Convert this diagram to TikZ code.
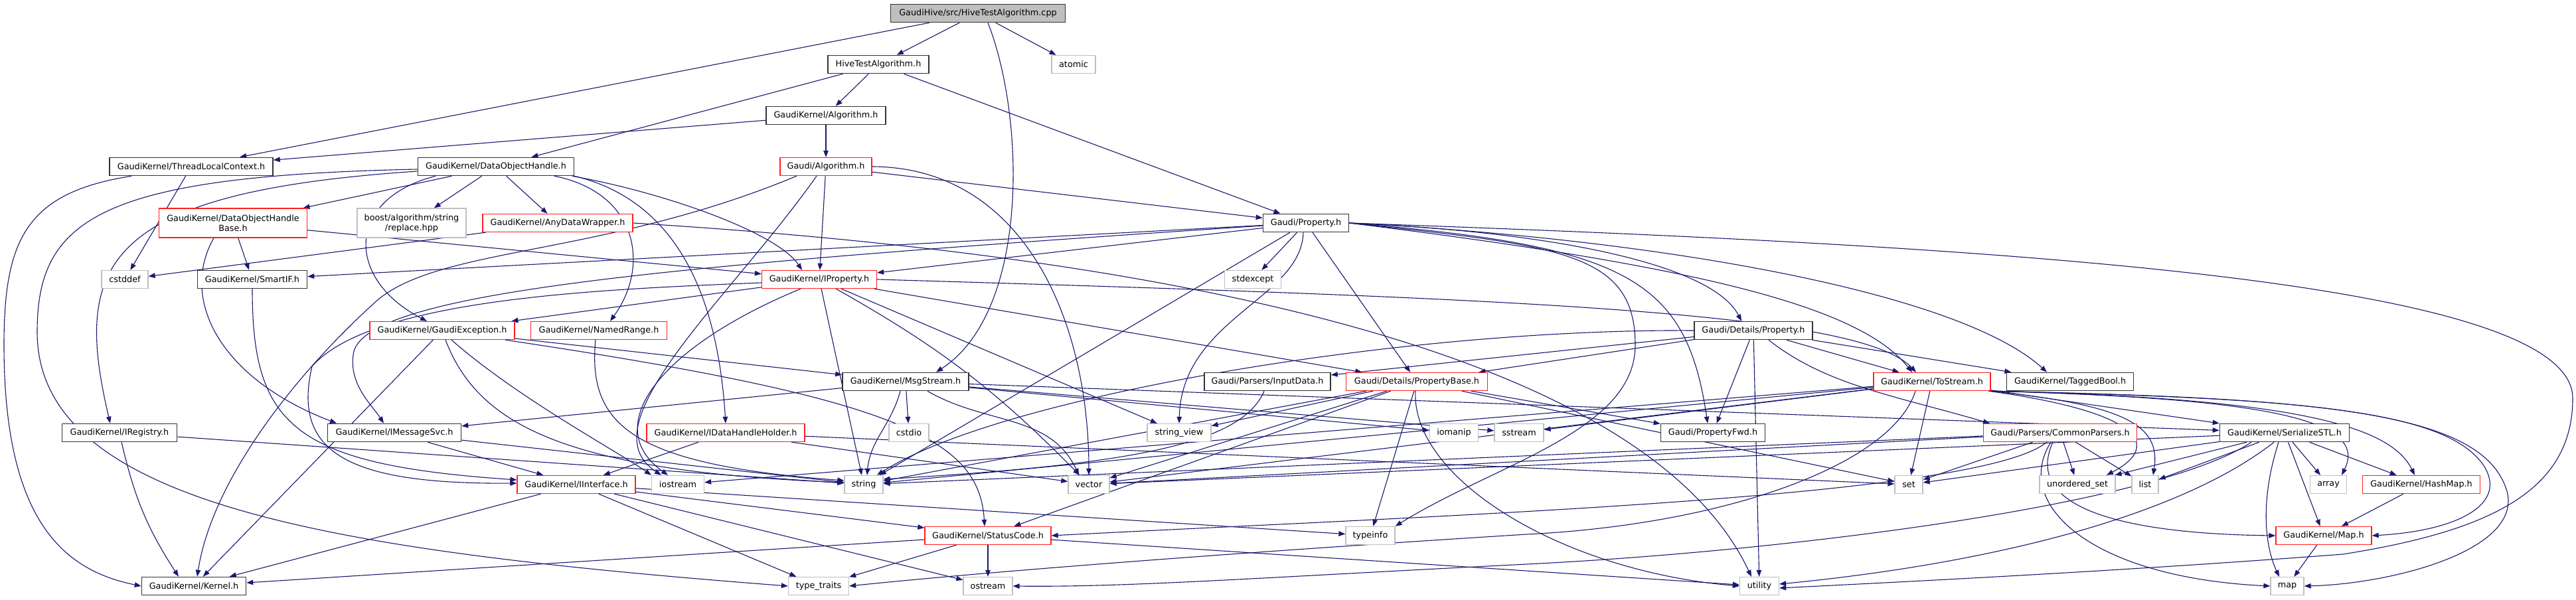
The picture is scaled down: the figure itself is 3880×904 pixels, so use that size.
\documentclass[tikz,border=0pt]{standalone}
\usepackage{fontspec}
\setmainfont{DejaVu Sans}
\usetikzlibrary{arrows.meta}
\pgfdeclarelayer{bg}
\pgfsetlayers{bg,main}
\definecolor{edgec}{HTML}{191970}
\definecolor{nodeb}{HTML}{333333}
\definecolor{sysg}{HTML}{BFBFBF}
\definecolor{redb}{HTML}{FF2020}
\begin{document}
\begin{tikzpicture}[x=1pt,y=1pt,
  nb/.style={draw=nodeb,line width=1.6pt,fill=white,minimum height=27pt,inner xsep=3pt,inner ysep=2pt,font=\fontsize{12.8}{15}\selectfont,align=center},
  nr/.style={nb,draw=redb,line width=1.3pt},
  ng/.style={nb,draw=sysg,line width=1.3pt},
  e/.style={draw=edgec,line width=1.1pt,-{Triangle[length=10pt,width=7.5pt]}}]
\useasboundingbox (0,0) rectangle (3880,-904);
% nodes
\node[nb,fill=sysg,minimum width=263pt] (root) at (1473,-20) {GaudiHive/src/HiveTestAlgorithm.cpp};
\node[nb,minimum width=152pt] (hta) at (1323,-97) {HiveTestAlgorithm.h};
\node[ng,minimum width=66pt] (atomic) at (1617,-97) {atomic};
\node[nb,minimum width=180pt] (gkalg) at (1244,-174) {GaudiKernel/Algorithm.h};
\node[nr,minimum width=138pt] (galg) at (1244,-251) {Gaudi/Algorithm.h};
\node[nb,minimum width=246pt] (tlc) at (288,-251) {GaudiKernel/ThreadLocalContext.h};
\node[nb,minimum width=235pt] (doh) at (747,-251) {GaudiKernel/DataObjectHandle.h};
\node[nr,minimum width=223pt,minimum height=44pt] (dohb) at (351,-336) {GaudiKernel/DataObjectHandle\\Base.h};
\node[ng,minimum width=164pt,minimum height=44pt] (boost) at (620,-336) {boost/algorithm/string\\/replace.hpp};
\node[nr,minimum width=226pt] (adw) at (840,-336) {GaudiKernel/AnyDataWrapper.h};
\node[nb,minimum width=129pt] (prop) at (1967,-336) {Gaudi/Property.h};
\node[ng,minimum width=70pt] (cstddef) at (188,-421) {cstddef};
\node[nb,minimum width=165pt] (smartif) at (380,-421) {GaudiKernel/SmartIF.h};
\node[nr,minimum width=173pt] (iprop) at (1234,-421) {GaudiKernel/IProperty.h};
\node[ng,minimum width=85pt] (stdexcept) at (1887,-421) {stdexcept};
\node[nr,minimum width=218pt] (gexc) at (666,-498) {GaudiKernel/GaudiException.h};
\node[nr,minimum width=205pt] (named) at (902,-498) {GaudiKernel/NamedRange.h};
\node[nb,minimum width=178pt] (dprop) at (2641,-498) {Gaudi/Details/Property.h};
\node[nb,minimum width=190pt] (msg) at (1364,-575) {GaudiKernel/MsgStream.h};
\node[nb,minimum width=190pt] (inputdata) at (1909,-575) {Gaudi/Parsers/InputData.h};
\node[nr,minimum width=213pt] (pbase) at (2134,-575) {Gaudi/Details/PropertyBase.h};
\node[nr,minimum width=176pt] (tostream) at (2910,-575) {GaudiKernel/ToStream.h};
\node[nb,minimum width=191pt] (tagged) at (3118,-575) {GaudiKernel/TaggedBool.h};
\node[nb,minimum width=173pt] (iregistry) at (180,-652) {GaudiKernel/IRegistry.h};
\node[nb,minimum width=201pt] (imsg) at (594,-652) {GaudiKernel/IMessageSvc.h};
\node[nr,minimum width=238pt] (idhh) at (1093,-652) {GaudiKernel/IDataHandleHolder.h};
\node[ng,minimum width=60pt] (cstdio) at (1369,-652) {cstdio};
\node[ng,minimum width=96pt] (sview) at (1776,-652) {string\_view};
\node[ng,minimum width=73pt] (iomanip) at (2190,-652) {iomanip};
\node[ng,minimum width=74pt] (sstream) at (2288,-652) {sstream};
\node[nb,minimum width=157pt] (pfwd) at (2580,-652) {Gaudi/PropertyFwd.h};
\node[nr,minimum width=231pt] (cparsers) at (3103,-652) {Gaudi/Parsers/CommonParsers.h};
\node[nb,minimum width=195pt] (sstl) at (3441,-652) {GaudiKernel/SerializeSTL.h};
\node[nr,minimum width=178pt] (iinterface) at (868,-730) {GaudiKernel/IInterface.h};
\node[ng,minimum width=79pt] (iostream) at (1021,-730) {iostream};
\node[ng,minimum width=58pt] (string) at (1301,-730) {string};
\node[ng,minimum width=62pt] (vector) at (1640,-730) {vector};
\node[ng,minimum width=42pt] (set) at (2875,-730) {set};
\node[ng,minimum width=114pt] (uset) at (3129,-730) {unordered\_set};
\node[ng,minimum width=40pt] (list) at (3231,-730) {list};
\node[ng,minimum width=55pt] (array) at (3507,-730) {array};
\node[nr,minimum width=177pt] (hashmap) at (3647,-730) {GaudiKernel/HashMap.h};
\node[nr,minimum width=190pt] (statuscode) at (1488,-807) {GaudiKernel/StatusCode.h};
\node[ng,minimum width=74pt] (typeinfo) at (2064,-807) {typeinfo};
\node[nr,minimum width=144pt] (mapH) at (3500,-807) {GaudiKernel/Map.h};
\node[nb,minimum width=157pt] (kernel) at (292,-883) {GaudiKernel/Kernel.h};
\node[ng,minimum width=91pt] (typetraits) at (1233,-883) {type\_traits};
\node[ng,minimum width=74pt] (ostream) at (1488,-883) {ostream};
\node[ng,minimum width=59pt] (utility) at (2650,-883) {utility};
\node[ng,minimum width=50pt] (map) at (3445,-883) {map};
% edges
\begin{pgfonlayer}{bg}
\fill[white] (0,0) rectangle (3880,-904);
% root
\draw[e] (root) -- (tlc);
\draw[e] (root) -- (hta);
\draw[e] ([xshift=15pt]root.south) .. controls (1545,-180) and (1550,-470) .. ([xshift=46pt]msg.north);
\draw[e] (root) -- (atomic);
% hta
\draw[e] (hta) -- (doh);
\draw[e] (hta) -- (gkalg);
\draw[e] (hta) -- (prop);
% gkalg
\draw[e] (gkalg) -- (galg);
\draw[e] (gkalg) -- (tlc);
% galg
\draw[e] (galg) -- (iprop);
\draw[e] (galg) -- (prop);
\draw[e] (galg.east) .. controls (1540,-252) and (1640,-480) .. (vector.north);
\draw[e] ([xshift=-44pt]galg.south) .. controls (900,-390) and (650,-370) .. (560,-460) .. controls (450,-560) and (320,-720) .. ([xshift=5pt]kernel.north);
\draw[e] ([xshift=-14pt]galg.south) .. controls (1100,-450) and (880,-640) .. ([xshift=-25pt]iostream.north);
% tlc
\draw[e] (tlc) -- (cstddef);
\draw[e] ([xshift=-90pt]tlc.south) .. controls (40,-290) and (6,-360) .. (6,-520) .. controls (6,-790) and (100,-860) .. (kernel.west);
% doh
\draw[e] (doh) -- (dohb);
\draw[e] (doh) -- (boost);
\draw[e] (doh) -- (adw);
\draw[e] ([yshift=-7pt]doh.west) .. controls (150,-290) and (110,-400) .. ([xshift=-14pt]iregistry.north);
\draw[e] ([yshift=-4pt]doh.west) .. controls (150,-265) and (56,-330) .. (56,-500) .. controls (56,-760) and (500,-830) .. (typetraits.west);
\draw[e] ([xshift=-91pt]doh.south) .. controls (520,-300) and (520,-420) .. ([xshift=-23pt]gexc.north);
\draw[e] ([xshift=88pt]doh.south) .. controls (960,-290) and (980,-400) .. ([xshift=17pt]named.north);
\draw[e] ([xshift=115pt]doh.south) .. controls (1000,-290) and (1170,-350) .. ([xshift=-26pt]iprop.north);
\draw[e] (doh.south east) .. controls (1010,-300) and (1080,-430) .. (idhh.north);
% dohb
\draw[e] (dohb) -- (smartif);
\draw[e] ([xshift=-29pt]dohb.south) .. controls (270,-450) and (330,-570) .. ([xshift=-87pt]imsg.north);
\draw[e] (dohb) -- (iprop);
% adw
\draw[e] (adw) -- (cstddef);
\draw[e] (adw.east) .. controls (1500,-370) and (2450,-470) .. ([xshift=-12pt]utility.north);
% smartif
\draw[e] (smartif.south) .. controls (380,-640) and (440,-700) .. ([yshift=7pt]iinterface.west);
% prop
\draw[e] (prop) -- (smartif);
\draw[e] ([yshift=-4pt]prop.west) .. controls (1000,-400) and (540,-440) .. (532,-535) .. controls (526,-580) and (560,-610) .. ([xshift=-16pt]imsg.north);
\draw[e] (prop) -- (iprop);
\draw[e] (prop) -- (stdexcept);
\draw[e] (prop) -- (string);
\draw[e] ([xshift=-4pt]prop.south) .. controls (1960,-450) and (1780,-480) .. (sview.north);
\draw[e] (prop) -- (pbase);
\draw[e] (prop.east) .. controls (2350,-350) and (2580,-400) .. ([xshift=-18pt]dprop.north);
\draw[e] (prop.east) .. controls (2350,-370) and (2463,-380) .. (2463,-520) .. controls (2463,-650) and (2250,-700) .. (typeinfo.north east);
\draw[e] (prop.east) .. controls (2450,-370) and (2540,-420) .. ([xshift=-8pt]pfwd.north);
\draw[e] (prop.east) .. controls (2550,-400) and (2800,-460) .. ([xshift=-30pt]tostream.north);
\draw[e] (prop.east) .. controls (2500,-360) and (2950,-440) .. ([xshift=-35pt]tagged.north);
\draw[e] (prop.east) .. controls (3000,-370) and (3875,-420) .. (3875,-600) .. controls (3875,-740) and (3750,-800) .. (3529,-835) .. controls (3200,-860) and (2900,-875) .. ([yshift=-3pt]utility.east);
% iprop
\draw[e] (iprop) -- (gexc);
\draw[e] ([yshift=-5pt]iprop.west) .. controls (900,-436) and (560,-450) .. (470,-552) .. controls (440,-680) and (520,-730) .. ([yshift=2pt]iinterface.west);
\draw[e] (iprop) -- (string);
\draw[e] (iprop) to[bend left=8] (vector);
\draw[e] (iprop) -- (sview);
\draw[e] (iprop) -- (pbase);
\draw[e] (iprop.east) .. controls (2300,-450) and (2800,-470) .. ([xshift=-24pt]tostream.north);
\draw[e] ([xshift=-28pt]iprop.south) .. controls (1000,-520) and (900,-640) .. ([xshift=-15pt]iostream.north);
% gexc
\draw[e] (gexc) -- (kernel);
\draw[e] ([xshift=95pt]gexc.south) .. controls (1350,-600) and (1475,-660) .. ([xshift=-5pt]statuscode.north);
\draw[e] (gexc) -- (msg);
\draw[e] ([xshift=5pt]gexc.south) .. controls (720,-640) and (850,-710) .. ([yshift=3pt]string.west);
\draw[e] ([xshift=14pt]gexc.south) .. controls (780,-600) and (930,-680) .. (iostream.north west);
% named
\draw[e] ([xshift=-5pt]named.south) .. controls (885,-640) and (950,-700) .. ([yshift=6pt]string.west);
% iregistry
\draw[e] (iregistry) to[bend right=10] ([xshift=-23pt]kernel.north);
\draw[e] (iregistry) -- (string);
% imsg
\draw[e] (imsg) -- (iinterface);
\draw[e] (imsg) -- (string);
% idhh
\draw[e] (idhh) -- (iinterface);
\draw[e] (idhh) -- (vector);
\draw[e] (idhh) -- (set);
% iinterface
\draw[e] (iinterface) -- (kernel);
\draw[e] (iinterface) -- (statuscode);
\draw[e] (iinterface) -- (typetraits);
\draw[e] (iinterface) -- (ostream);
\draw[e] (iinterface) -- (typeinfo);
% msg
\draw[e] (msg) -- (imsg);
\draw[e] ([xshift=-8pt]msg.south) to[out=-105,in=85] ([xshift=5pt]string.north);
\draw[e] (msg) -- (cstdio);
\draw[e] ([xshift=33pt]msg.south) to[out=-30,in=115] ([xshift=-15pt]vector.north);
\draw[e] (msg) -- (iomanip);
\draw[e] (msg) -- (sstream);
\draw[e] (msg) -- (sstl);
% dprop
\draw[e] (dprop.west) .. controls (2100,-495) and (1500,-600) .. ([xshift=20pt]string.north);
\draw[e] (dprop) -- (inputdata);
\draw[e] (dprop) -- (pbase);
\draw[e] (dprop) -- (pfwd);
\draw[e] (dprop) -- (utility);
\draw[e] ([xshift=23pt]dprop.south) .. controls (2750,-580) and (2850,-595) .. ([xshift=-106pt]cparsers.north);
\draw[e] (dprop) -- (tostream);
\draw[e] (dprop) -- (tagged);
% inputdata
\draw[e] ([xshift=-5pt]inputdata.south) .. controls (1870,-670) and (1700,-700) .. ([yshift=8pt]string.east);
% pbase
\draw[e] (pbase) -- (typeinfo);
\draw[e] ([xshift=-2pt]pbase.south) .. controls (2125,-720) and (2350,-860) .. (utility.west);
\draw[e] (pbase) -- (set);
\draw[e] (pbase) -- (pfwd);
\draw[e] (pbase) -- (sview);
\draw[e] (pbase) -- (statuscode);
\draw[e] (pbase) -- (string);
\draw[e] (pbase) -- (vector);
% tostream
\draw[e] (tostream) -- (string);
\draw[e] (tostream) -- (vector);
\draw[e] (tostream) -- (iostream);
\draw[e] ([xshift=-25pt]tostream.south) .. controls (2850,-700) and (2600,-790) .. (2300,-805) .. controls (1900,-830) and (1500,-860) .. (typetraits.east);
\draw[e] (tostream) -- (set);
\draw[e] (tostream) -- (sstream);
\draw[e] ([xshift=85pt]tostream.south) .. controls (3220,-620) and (3260,-670) .. ([xshift=44pt]uset.north);
\draw[e] ([xshift=86pt]tostream.south) .. controls (3200,-610) and (3255,-640) .. ([xshift=12pt]list.north);
\draw[e] (tostream) -- (sstl);
\draw[e] (tostream.south east) .. controls (3400,-600) and (3570,-630) .. ([xshift=20pt]array.north);
\draw[e] (tostream.south east) .. controls (3450,-600) and (3600,-640) .. ([xshift=-10pt]hashmap.north);
\draw[e] (tostream.south east) .. controls (3450,-600) and (3680,-615) .. (3740,-700) .. controls (3780,-760) and (3700,-800) .. (mapH.east);
\draw[e] (tostream.south east) .. controls (3500,-600) and (3740,-620) .. (3776,-740) .. controls (3800,-830) and (3600,-880) .. (map.east);
% cparsers
\draw[e] (cparsers) -- (string);
\draw[e] (cparsers) -- (vector);
\draw[e] (cparsers) -- (set);
\draw[e] ([xshift=-20pt]cparsers.south) .. controls (2980,-750) and (2200,-775) .. (statuscode.east);
\draw[e] ([xshift=-14pt]cparsers.south) .. controls (3030,-760) and (3150,-870) .. (map.west);
\draw[e] ([xshift=-11pt]cparsers.south) .. controls (3040,-780) and (3250,-805) .. (mapH.west);
\draw[e] (cparsers) -- (uset);
\draw[e] (cparsers) -- (list);
% sstl
\draw[e] (sstl) -- (vector);
\draw[e] (sstl) -- (set);
\draw[e] (sstl) -- (uset);
\draw[e] (sstl) -- (list);
\draw[e] ([xshift=-50pt]sstl.south) .. controls (3250,-760) and (2700,-830) .. (2300,-850) .. controls (1900,-870) and (1700,-885) .. (ostream.east);
\draw[e] ([xshift=-16pt]sstl.south) .. controls (3280,-780) and (2990,-850) .. ([yshift=3pt]utility.east);
\draw[e] ([xshift=-9pt]sstl.south) .. controls (3405,-750) and (3410,-820) .. ([xshift=-12pt]map.north);
\draw[e] (sstl) -- (mapH);
\draw[e] (sstl) -- (array);
\draw[e] (sstl) -- (hashmap);
% leaves
\draw[e] (hashmap) -- (mapH);
\draw[e] (mapH) -- (map);
\draw[e] (statuscode) -- (kernel);
\draw[e] (statuscode) -- (typetraits);
\draw[e] (statuscode) -- (ostream);
\draw[e] (statuscode) -- (utility);
\end{pgfonlayer}
\end{tikzpicture}
\end{document}
